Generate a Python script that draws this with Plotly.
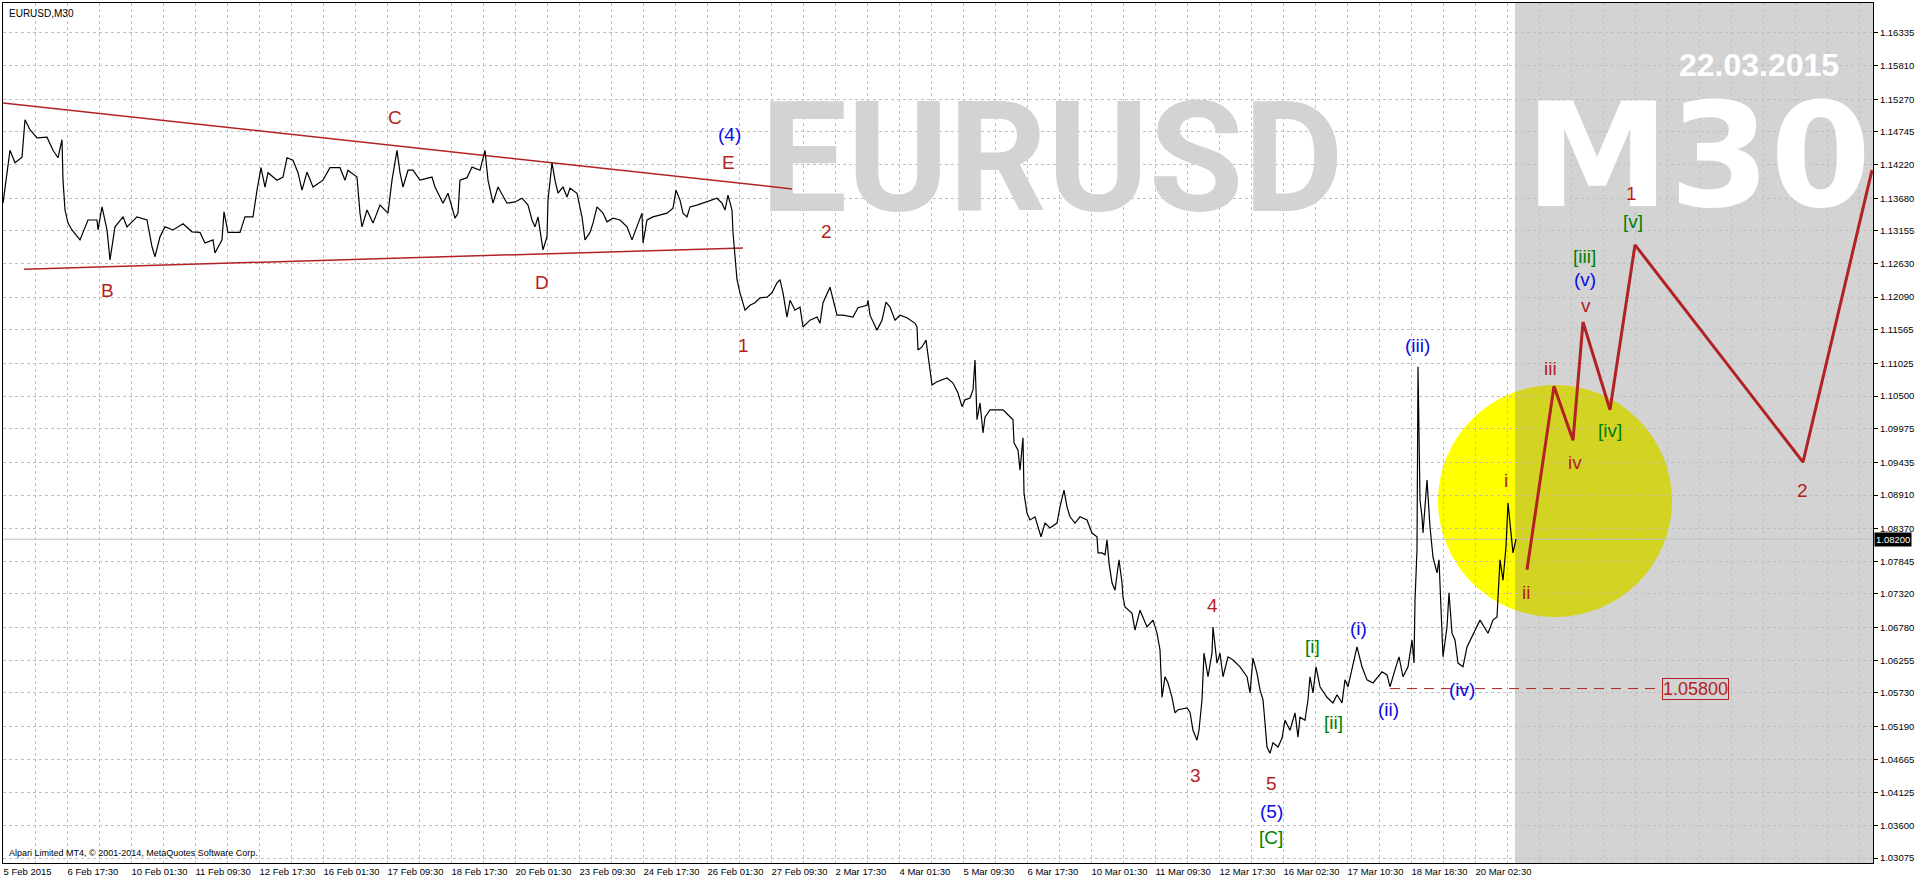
import plotly.graph_objects as go

RED = "#B22222"
BLUE = "#0A0AE6"
GREEN = "#008000"
GRID = "#C0C0C0"
SHADE = "#D3D3D3"
FONT = "Liberation Sans, Arial, sans-serif"

# close prices (x = bar number, 1 bar per pixel in MT4)
triangle_bars = [3, 10, 15, 22, 25, 30, 37, 47, 53, 58, 62, 63, 65, 68, 72, 80, 88, 97, 98, 102,
                 107, 110, 115, 123, 127, 137, 147, 152, 155, 160, 165, 173, 183, 192, 200, 205,
                 213, 215, 222, 224, 228, 240, 245, 253, 257, 261, 265, 268, 277, 283, 287, 293,
                 298, 302, 307, 313, 323, 330, 340, 345, 348, 357, 360, 362, 367, 373, 380, 388,
                 392, 397]
triangle_close = [1.1360, 1.1445, 1.1425, 1.1434, 1.1494, 1.1478, 1.1465, 1.1466, 1.1445, 1.1433,
                  1.1462, 1.1397, 1.1349, 1.1328, 1.1317, 1.1301, 1.1333, 1.1333, 1.1317, 1.1354,
                  1.1317, 1.1269, 1.1322, 1.1338, 1.1322, 1.1338, 1.1333, 1.1290, 1.1274, 1.1306,
                  1.1322, 1.1317, 1.1327, 1.1314, 1.1313, 1.1296, 1.1301, 1.1280, 1.1301, 1.1346,
                  1.1313, 1.1313, 1.1338, 1.1338, 1.1381, 1.1417, 1.1386, 1.1409, 1.1397, 1.1402,
                  1.1433, 1.1429, 1.1409, 1.1381, 1.1410, 1.1386, 1.1397, 1.1417, 1.1417, 1.1397,
                  1.1413, 1.1402, 1.1344, 1.1322, 1.1349, 1.1328, 1.1357, 1.1344, 1.1397, 1.1445]

wave_e_bars = [400, 403, 408, 413, 420, 432, 435, 443, 448, 455, 458, 460, 467, 472, 480, 485, 488,
               493, 498, 507, 515, 522, 528, 532, 535, 538, 543, 547, 548, 552, 555, 558, 563, 567,
               570, 577, 582, 585, 590, 593, 597, 603, 607, 613, 620, 627, 632, 637, 642, 643, 647,
               653, 660, 667, 673, 676, 680, 683, 687, 690, 697, 707, 717, 722, 725, 728, 732, 733,
               735, 737, 740, 745, 750, 755, 760, 767, 772, 777, 780, 783, 787, 790, 795, 800]
wave_e_close = [1.1409, 1.1386, 1.1413, 1.1413, 1.1397, 1.1402, 1.1386, 1.1360, 1.1376, 1.1336,
                1.1344, 1.1397, 1.1401, 1.1418, 1.1413, 1.1445, 1.1397, 1.1360, 1.1386, 1.1360,
                1.1362, 1.1368, 1.1357, 1.1333, 1.1322, 1.1338, 1.1285, 1.1306, 1.1365, 1.1425,
                1.1397, 1.1376, 1.1386, 1.1370, 1.1384, 1.1376, 1.1338, 1.1301, 1.1313, 1.1328,
                1.1354, 1.1344, 1.1330, 1.1336, 1.1333, 1.1322, 1.1301, 1.1322, 1.1344, 1.1296,
                1.1333, 1.1338, 1.1341, 1.1344, 1.1352, 1.1381, 1.1365, 1.1344, 1.1338, 1.1354,
                1.1357, 1.1362, 1.1368, 1.1360, 1.1349, 1.1373, 1.1349, 1.1313, 1.1269, 1.1237,
                1.1216, 1.1188, 1.1196, 1.1200, 1.1208, 1.1209, 1.1216, 1.1232, 1.1237, 1.1216,
                1.1177, 1.1204, 1.1188, 1.1193]

decline_bars = [803, 810, 817, 820, 823, 830, 837, 843, 853, 858, 867, 868, 870, 877, 882, 886, 890,
                895, 900, 907, 915, 917, 918, 922, 926, 928, 930, 932, 937, 947, 953, 958, 962, 965,
                970, 973, 975, 977, 980, 983, 985, 990, 997, 1003, 1008, 1013, 1014, 1018, 1020,
                1023, 1024, 1027, 1030, 1035, 1041, 1045, 1050, 1057, 1060, 1064, 1067, 1070, 1075,
                1080, 1087, 1092, 1097, 1098, 1102, 1105, 1107, 1109, 1112, 1115, 1118, 1119, 1122,
                1123]
decline_close = [1.1161, 1.1172, 1.1177, 1.1167, 1.1200, 1.1225, 1.1180, 1.1180, 1.1177, 1.1192,
                 1.1196, 1.1204, 1.1180, 1.1156, 1.1172, 1.1201, 1.1193, 1.1172, 1.1180, 1.1176,
                 1.1167, 1.1161, 1.1124, 1.1129, 1.1140, 1.1119, 1.1092, 1.1068, 1.1073, 1.1079,
                 1.1071, 1.1055, 1.1033, 1.1044, 1.1047, 1.1060, 1.1108, 1.1012, 1.1039, 1.0991,
                 1.1016, 1.1028, 1.1028, 1.1028, 1.1020, 1.1012, 1.0975, 1.0963, 1.0931, 1.0983,
                 1.0894, 1.0862, 1.0851, 1.0856, 1.0824, 1.0846, 1.0838, 1.0846, 1.0872, 1.0899,
                 1.0872, 1.0856, 1.0846, 1.0856, 1.0851, 1.0830, 1.0824, 1.0798, 1.0798, 1.0795,
                 1.0819, 1.0782, 1.0750, 1.0738, 1.0775, 1.0787, 1.0750, 1.0727]

bottom_bars = [1125, 1132, 1135, 1140, 1147, 1153, 1157, 1160, 1162, 1165, 1168, 1172, 1175, 1178,
               1187, 1190, 1193, 1197, 1199, 1202, 1204, 1208, 1212, 1213, 1217, 1220, 1223, 1228,
               1233, 1240, 1247, 1250, 1253, 1257, 1260, 1263, 1265, 1267, 1270, 1273, 1278, 1282,
               1285, 1290, 1295, 1298, 1300, 1305, 1308, 1310, 1313, 1316, 1320, 1327, 1333, 1337,
               1342, 1345, 1348, 1353, 1357, 1362, 1367, 1373, 1382, 1387, 1390, 1395, 1399, 1403,
               1408, 1412, 1414, 1415, 1417, 1418, 1420, 1422, 1423, 1427, 1430, 1433, 1437, 1439,
               1442, 1443, 1447, 1449, 1452, 1455, 1458, 1463, 1467, 1472, 1477, 1480, 1488, 1493,
               1497, 1498, 1500, 1503, 1506, 1508, 1511, 1513, 1516]
bottom_close = [1.0711, 1.0701, 1.0674, 1.0706, 1.0679, 1.0690, 1.0669, 1.0642, 1.0566, 1.0599,
                1.0589, 1.0566, 1.0541, 1.0546, 1.0549, 1.0542, 1.0513, 1.0497, 1.0513, 1.0562,
                1.0637, 1.0599, 1.0637, 1.0679, 1.0621, 1.0637, 1.0599, 1.0631, 1.0626, 1.0615,
                1.0599, 1.0573, 1.0629, 1.0605, 1.0578, 1.0562, 1.0525, 1.0486, 1.0476, 1.0493,
                1.0486, 1.0500, 1.0529, 1.0513, 1.0541, 1.0502, 1.0534, 1.0529, 1.0562, 1.0599,
                1.0573, 1.0615, 1.0583, 1.0566, 1.0557, 1.0570, 1.0557, 1.0594, 1.0583, 1.0621,
                1.0647, 1.0615, 1.0594, 1.0589, 1.0607, 1.0602, 1.0583, 1.0610, 1.0631, 1.0599,
                1.0615, 1.0658, 1.0621, 1.0722, 1.0803, 1.1097, 1.0883, 1.0856, 1.0830, 1.0915,
                1.0840, 1.0791, 1.0766, 1.0787, 1.0679, 1.0631, 1.0679, 1.0734, 1.0669, 1.0658,
                1.0621, 1.0615, 1.0647, 1.0663, 1.0679, 1.0690, 1.0669, 1.0690, 1.0695, 1.0722,
                1.0787, 1.0754, 1.0808, 1.0878, 1.0830, 1.0798, 1.0820]

last_price = 1.08200

# triangle boundaries
upper_bars = [3, 792]
upper_prices = [1.1521, 1.1383]
lower_bars = [24, 743]
lower_prices = [1.1254, 1.1288]

# projected wave path
forecast_bars = [1527, 1554, 1573, 1583, 1610, 1635, 1803, 1872]
forecast_prices = [1.0771, 1.1066, 1.0979, 1.1169, 1.1028, 1.1293, 1.0944, 1.1413]

level_bars = [1390, 1662]
level_price = 1.05800

circle_bars = [1438, 1672]
circle_prices = [1.0695, 1.1068]
future_start = 1515

wave_text = ["C", "B", "D", "E", "(4)", "1", "2", "3", "4", "5", "(5)", "[C]",
             "[i]", "[ii]", "(i)", "(ii)", "(iii)", "(iv)",
             "i", "ii", "iii", "iv", "v", "(v)", "[iii]", "[iv]", "[v]", "1", "2"]
wave_bar = [395, 107, 542, 728, 729, 743, 826, 1195, 1212, 1271, 1271, 1271,
            1312, 1333, 1358, 1388, 1417, 1462,
            1506, 1526, 1550, 1575, 1586, 1585, 1584, 1610, 1633, 1631, 1802]
wave_price = [1.1498, 1.1219, 1.1232, 1.1426, 1.1470, 1.1132, 1.1314, 1.0441, 1.0714, 1.0428,
              1.0383, 1.0340,
              1.0647, 1.0525, 1.0677, 1.0546, 1.1131, 1.0578,
              1.0915, 1.0734, 1.1095, 1.0943, 1.1196, 1.1237, 1.1275, 1.0994, 1.1331, 1.1376,
              1.0898]
wave_color = [RED, RED, RED, RED, BLUE, RED, RED, RED, RED, RED, BLUE, GREEN,
              GREEN, GREEN, BLUE, BLUE, BLUE, BLUE,
              RED, RED, RED, RED, RED, BLUE, GREEN, GREEN, GREEN, RED, RED]

price_ticks = [1.16335, 1.15810, 1.15270, 1.14745, 1.14220, 1.13680, 1.13155, 1.12630, 1.12090,
               1.11565, 1.11025, 1.10500, 1.09975, 1.09435, 1.08910, 1.08370, 1.07845, 1.07320,
               1.06780, 1.06255, 1.05730, 1.05190, 1.04665, 1.04125, 1.03600, 1.03075]

time_labels = ["5 Feb 2015", "6 Feb 17:30", "10 Feb 01:30", "11 Feb 09:30", "12 Feb 17:30",
               "16 Feb 01:30", "17 Feb 09:30", "18 Feb 17:30", "20 Feb 01:30", "23 Feb 09:30",
               "24 Feb 17:30", "26 Feb 01:30", "27 Feb 09:30", "2 Mar 17:30", "4 Mar 01:30",
               "5 Mar 09:30", "6 Mar 17:30", "10 Mar 01:30", "11 Mar 09:30", "12 Mar 17:30",
               "16 Mar 02:30", "17 Mar 10:30", "18 Mar 18:30", "20 Mar 02:30"]

x_range = [3, 1873]
y_range = [1.02997, 1.16817]

# grid every 32 bars, date label on every second line
grid_bars = list(range(x_range[0], x_range[1], 32))
grid_text = [time_labels[i // 2] if i % 2 == 0 and i // 2 < len(time_labels) else ""
             for i in range(len(grid_bars))]

price_bars = triangle_bars + wave_e_bars + decline_bars + bottom_bars
price_close = triangle_close + wave_e_close + decline_close + bottom_close

fig = go.Figure()

# watermark texts sit under everything else
fig.add_trace(go.Scatter(
    x=[1052], y=[1.1409], mode="text", text=["EURUSD"], hoverinfo="skip",
    textfont={"family": "Roboto", "size": 154, "color": SHADE, "weight": "bold"},
))
fig.add_trace(go.Scatter(
    x=[1698], y=[1.1413], mode="text", text=["M30"], hoverinfo="skip",
    textfont={"family": "DejaVu Sans", "size": 145, "color": "white", "weight": "bold"},
))
fig.add_trace(go.Scatter(
    x=[1759], y=[1.1578], mode="text", text=["22.03.2015"], hoverinfo="skip",
    textfont={"family": FONT, "size": 32, "color": "white", "weight": "bold"},
))

for bars, prices in [(upper_bars, upper_prices), (lower_bars, lower_prices)]:
    fig.add_trace(go.Scatter(x=bars, y=prices, mode="lines",
                             line={"color": RED, "width": 1.5}, hoverinfo="skip"))

fig.add_trace(go.Scatter(
    x=level_bars, y=[level_price, level_price], mode="lines",
    line={"color": RED, "width": 1, "dash": "10px,7px"}, hoverinfo="skip",
))

fig.add_trace(go.Scatter(
    x=forecast_bars, y=forecast_prices, mode="lines",
    line={"color": RED, "width": 3}, hoverinfo="skip",
))

fig.add_trace(go.Scatter(
    x=price_bars, y=price_close, mode="lines",
    line={"color": "black", "width": 1.2}, name="EURUSD",
))

# yellow circle, then the future-area shade; the shade is translucent so the
# circle shows through it darkened, as in the terminal
fig.add_shape(type="circle", xref="x", yref="y",
              x0=circle_bars[0], x1=circle_bars[1], y0=circle_prices[0], y1=circle_prices[1],
              fillcolor="#FFFF00", line={"width": 0}, layer="below")
fig.add_shape(type="rect", xref="x", yref="y",
              x0=future_start, x1=x_range[1], y0=y_range[0], y1=y_range[1],
              fillcolor="rgb(113,113,113)", opacity=0.31, line={"width": 0}, layer="below")
fig.add_shape(type="line", xref="x", yref="y", x0=x_range[0], x1=x_range[1],
              y0=last_price, y1=last_price,
              line={"color": GRID, "width": 1}, layer="between")

for text, bar, price, color in zip(wave_text, wave_bar, wave_price, wave_color):
    fig.add_annotation(x=bar, y=price, text=text, showarrow=False,
                       font={"family": FONT, "size": 19, "color": color})

fig.add_annotation(x=level_bars[1], y=level_price, text="1.05800", showarrow=False,
                   xanchor="left", font={"family": FONT, "size": 18, "color": RED},
                   bordercolor=RED, borderwidth=1, borderpad=0)

fig.add_annotation(xref="paper", x=1, y=last_price, text="1.08200", showarrow=False,
                   xanchor="left", xshift=1, bgcolor="black", borderpad=1,
                   font={"family": FONT, "size": 9.5, "color": "white"})

fig.add_annotation(xref="paper", yref="paper", x=0, y=1, xanchor="left", yanchor="top",
                   xshift=4, yshift=-3, text="EURUSD,M30", showarrow=False,
                   font={"family": FONT, "size": 10, "color": "black"})
fig.add_annotation(xref="paper", yref="paper", x=0, y=0, xanchor="left", yanchor="bottom",
                   xshift=4, yshift=3, showarrow=False,
                   text="Alpari Limited MT4, \u00a9 2001-2014, MetaQuotes Software Corp.",
                   font={"family": FONT, "size": 9, "color": "black"})

fig.update_layout(
    width=1916,
    height=880,
    margin={"l": 3, "r": 43, "t": 3, "b": 17, "autoexpand": False},
    paper_bgcolor="white",
    plot_bgcolor="white",
    showlegend=False,
    font={"family": FONT, "size": 10, "color": "black"},
)

fig.update_xaxes(
    range=x_range,
    tickmode="array",
    tickvals=grid_bars,
    ticktext=grid_text,
    tickangle=0,
    ticklabelposition="outside right",
    ticks="",
    tickfont={"size": 9.5, "color": "black"},
    showgrid=True,
    gridcolor=GRID,
    griddash="3px,3px",
    gridwidth=1,
    zeroline=False,
    showline=True,
    linecolor="black",
    linewidth=1,
    mirror=True,
    automargin=False,
)

fig.update_yaxes(
    range=y_range,
    side="right",
    tickmode="array",
    tickvals=price_ticks,
    ticktext=[f"{v:.5f}" for v in price_ticks],
    ticks="outside",
    ticklen=4,
    tickcolor="black",
    tickfont={"size": 9.5, "color": "black"},
    showgrid=True,
    gridcolor=GRID,
    griddash="3px,3px",
    gridwidth=1,
    zeroline=False,
    showline=True,
    linecolor="black",
    linewidth=1,
    mirror=True,
    automargin=False,
)

# the page body has a default 8px margin; drop it so the chart fills the window
fig.write_html(
    "out.html",
    config={"displayModeBar": False},
    post_script="document.body.style.margin = '0';",
)
